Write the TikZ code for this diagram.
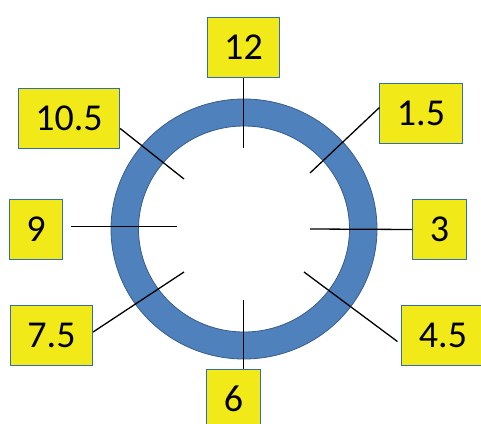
\documentclass[tikz,border=0pt]{standalone}
\usepackage{fontspec}
\setmainfont{Carlito}
\definecolor{ringblue}{RGB}{79,129,189}
\definecolor{ringedge}{RGB}{56,93,138}
\definecolor{boxyellow}{RGB}{242,234,24}
\definecolor{boxedge}{RGB}{46,110,180}
\tikzset{
    hourbox/.style={draw=boxedge, line width=1pt, fill=boxyellow, minimum height=60pt,
        inner xsep=17pt, inner ysep=0pt, font=\fontsize{38}{42}\selectfont},
    tick/.style={line width=1.3pt, black}
}
\begin{document}
\begin{tikzpicture}[x=1pt,y=-1pt]
        \useasboundingbox (0,0) rectangle (481,423);
        \clip (0,0) rectangle (481,423);
        \coordinate (O) at (244,229);

        \coordinate (C12) at (243.7,148);
        \coordinate (C105) at (184,179);
        \coordinate (C15) at (310,173);
        \coordinate (C9) at (177,226.5);
        \coordinate (C3) at (310,229);
        \coordinate (C75) at (184,272);
        \coordinate (C45) at (304,272);
        \coordinate (C6) at (243.7,300);

            \fill[ringblue, even odd rule] (O) ellipse [x radius=133, y radius=130]
                (O) ellipse [x radius=105.5, y radius=103];
            \draw[ringedge, line width=0.8pt] (O) ellipse [x radius=133, y radius=130];
            \draw[ringedge, line width=0.8pt] (O) ellipse [x radius=105.5, y radius=103];

        \node [hourbox] (B12) at (243.5,47.5) {12};
        \node [hourbox] (B105) at (69,118.5) {10.5};
        \node [hourbox] (B15) at (421,113.5) {1.5};
        \node [hourbox] (B9) at (36,229.5) {9};
        \node [hourbox] (B3) at (439.5,229.5) {3};
        \node [hourbox] (B75) at (51.5,335.5) {7.5};
        \node [hourbox] (B45) at (443,335.5) {4.5};
        \node [hourbox] (B6) at (233.5,399) {6};

        \draw[tick] (C12) -- (C12 |- B12.south);
        \draw[tick] (C105) -- ([yshift=-10pt]B105.east);
        \draw[tick] (C15) -- ([yshift=6pt]B15.west);
        \draw[tick, shorten >= 8pt] (C9) -- ([yshift=3pt]B9.east);
        \draw[tick] (C3) -- (B3.west);
        \draw[tick] (C75) -- ([yshift=3.5pt]B75.east);
        \draw[tick, shorten >= 5pt] (C45) -- ([yshift=-9pt]B45.west);
        \draw[tick] (C6) -- (C6 |- B6.north);
    \end{tikzpicture}
\end{document}
